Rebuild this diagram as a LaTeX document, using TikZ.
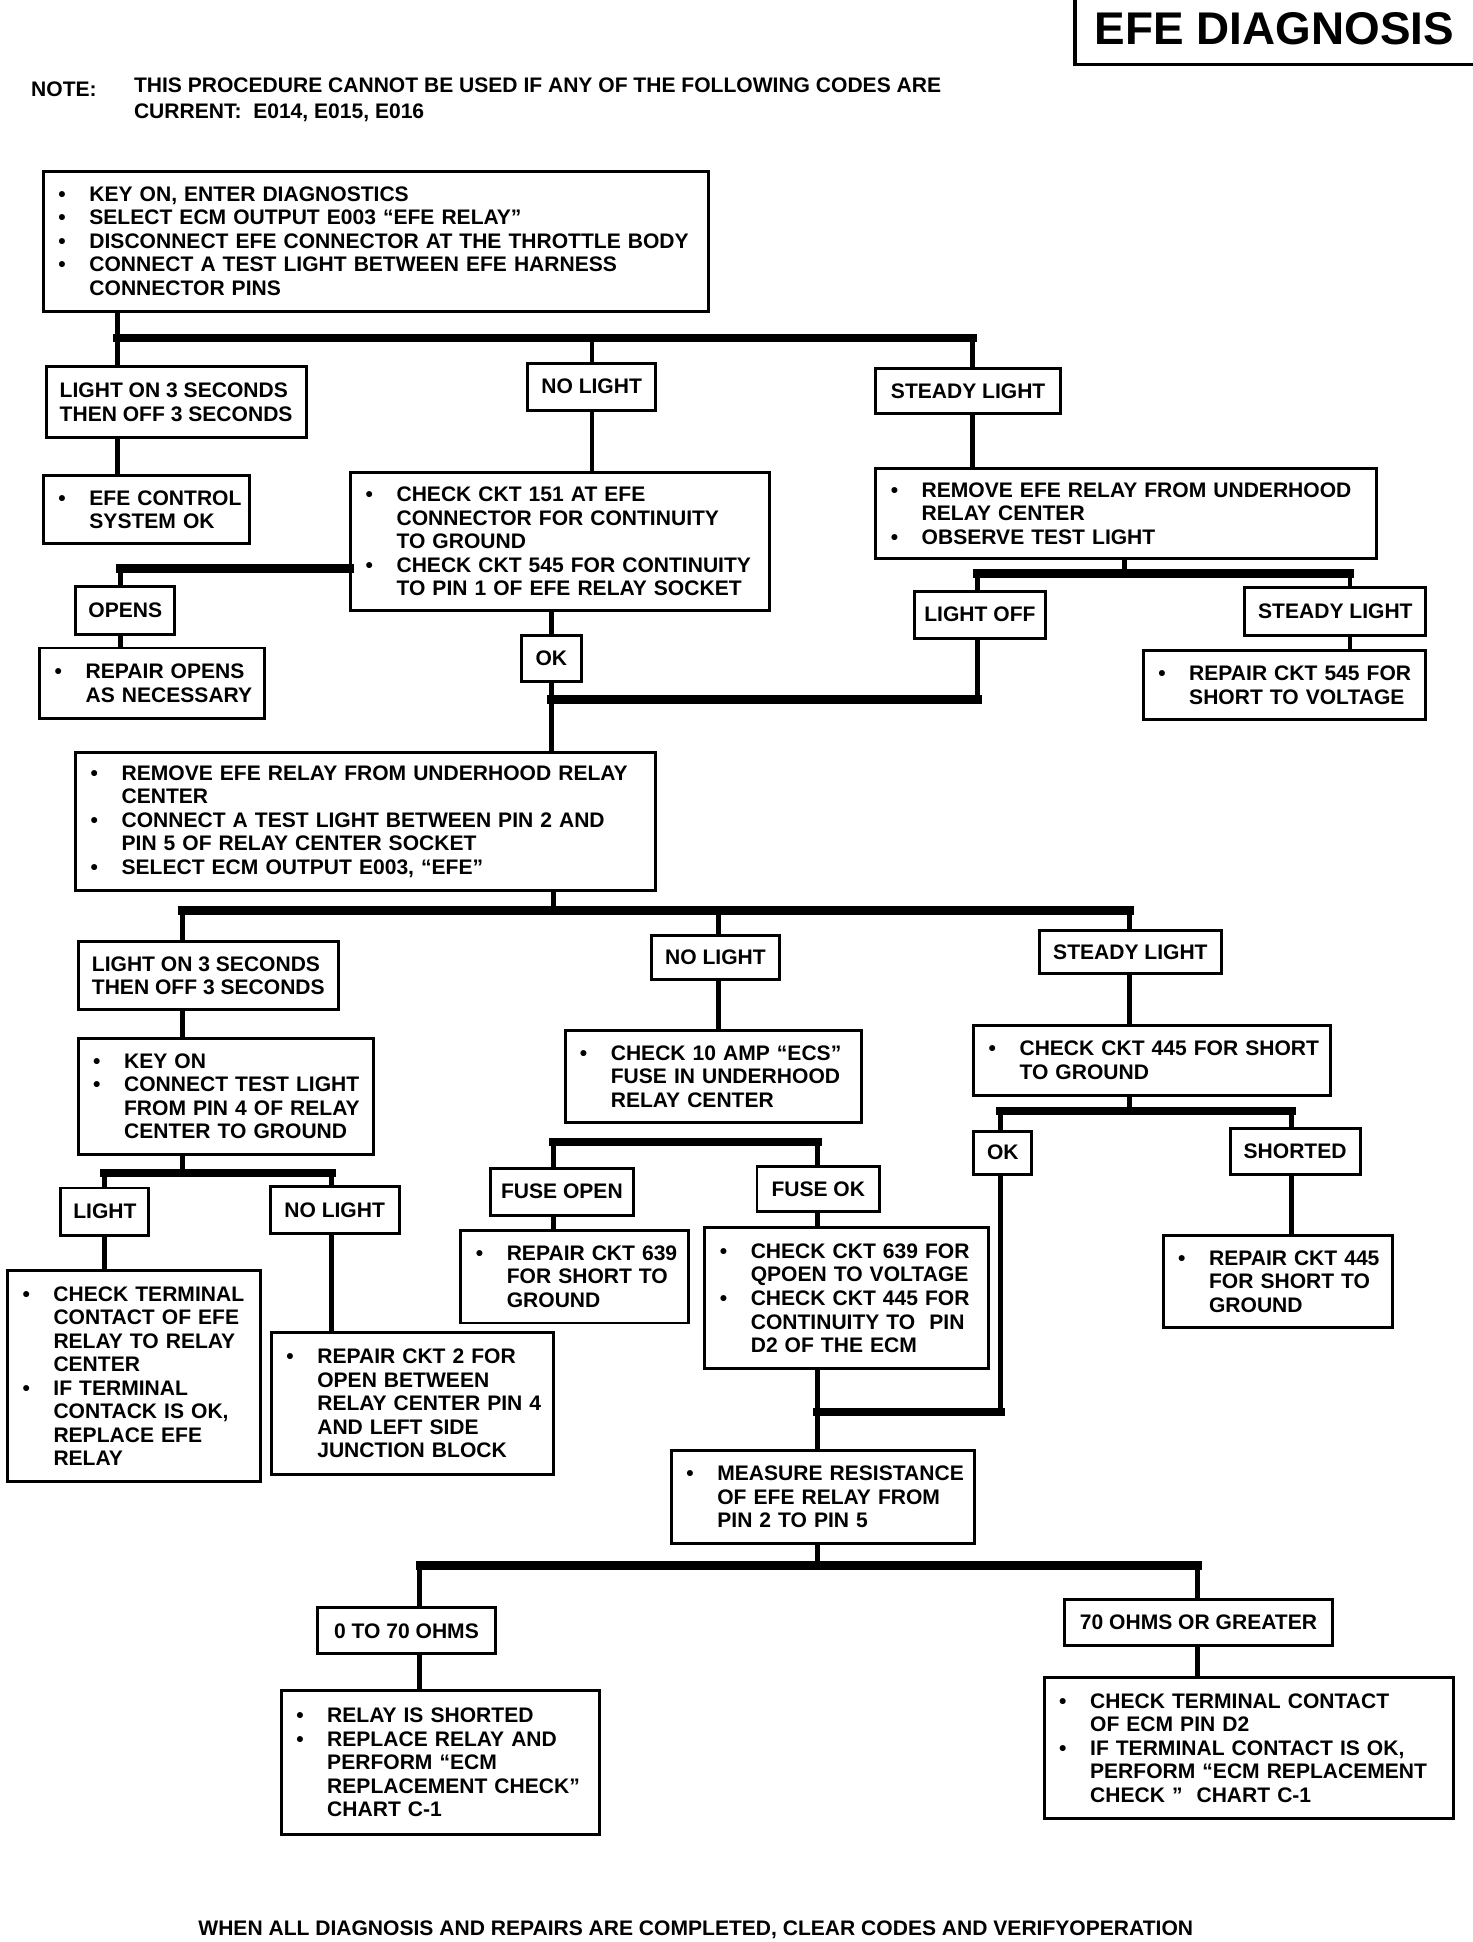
\documentclass[tikz,border=0pt]{standalone}
\usepackage{fontspec}
\setmainfont{Liberation Sans}
\newcommand{\ft}{\fontsize{17}{19}\selectfont\bfseries}
\newcommand{\bu}{\makebox[25pt][l]{\textbullet}}
\newcommand{\bl}[1]{\mbox{\bu#1}}
\newcommand{\cl}[1]{\mbox{\hspace*{25pt}#1}}
\tikzset{
  bx/.style={draw, line width=2.4pt, anchor=north west, inner xsep=12pt, inner ysep=0pt, align=left, font=\ft},
  lb/.style={draw, line width=2.4pt, anchor=north west, inner sep=0pt, align=center, font=\ft},
  vl/.style={line width=4pt},
  hb/.style={line width=7pt, line cap=rect},
}
\begin{document}
\begin{tikzpicture}[x=1pt,y=-1pt]
\useasboundingbox (0,0) rectangle (1189,1568);

% title and note
\node[font=\fontsize{37}{40}\selectfont\bfseries] (title) at (1029,23) {EFE DIAGNOSIS};
\draw[line width=3pt] (868,0) -- (868,52) -- (1189,52);
\node[anchor=west, font=\ft, inner sep=0pt] (notelabel) at (25,72) {NOTE:};
\node[anchor=north west, font=\fontsize{17}{21}\selectfont\bfseries, align=left, inner sep=0pt] (notetext) at (108,63)
  {THIS PROCEDURE CANNOT BE USED IF ANY OF THE FOLLOWING CODES ARE\\CURRENT:\ \ E014, E015, E016};

% boxes
\node[bx, text width=513pt, minimum height=113pt] (b1) at (34,137) {%
\bl{KEY ON, ENTER DIAGNOSTICS}\\
\bl{SELECT ECM OUTPUT E003 “EFE RELAY”}\\
\bl{DISCONNECT EFE CONNECTOR AT THE THROTTLE BODY}\\
\bl{CONNECT A TEST LIGHT BETWEEN EFE HARNESS}\\
\cl{CONNECTOR PINS}};

\node[lb, align=left, minimum width=210pt, minimum height=57pt] (l1) at (36,295) {LIGHT ON 3 SECONDS\\THEN OFF 3 SECONDS};
\node[lb, minimum width=103pt, minimum height=38pt] (l2) at (425,292) {NO LIGHT};
\node[lb, minimum width=149pt, minimum height=37pt] (l3) at (706,296) {STEADY LIGHT};

\node[bx, text width=142pt, minimum height=55pt] (c1) at (34,383) {\bl{EFE CONTROL}\\\cl{SYSTEM OK}};
\node[bx, text width=314pt, minimum height=112pt] (c2) at (282,380) {%
\bl{CHECK CKT 151 AT EFE}\\
\cl{CONNECTOR FOR CONTINUITY}\\
\cl{TO GROUND}\\
\bl{CHECK CKT 545 FOR CONTINUITY}\\
\cl{TO PIN 1 OF EFE RELAY SOCKET}};
\node[bx, text width=380pt, minimum height=73pt] (c3) at (706,377) {%
\bl{REMOVE EFE RELAY FROM UNDERHOOD}\\
\cl{RELAY CENTER}\\
\bl{OBSERVE TEST LIGHT}};

\node[lb, minimum width=80pt, minimum height=39pt] (o1) at (60,472) {OPENS};
\node[bx, text width=157pt, minimum height=57pt] (r1) at (31,522) {\bl{REPAIR OPENS}\\\cl{AS NECESSARY}};
\node[lb, minimum width=48pt, minimum height=37pt] (ok1) at (420,512) {OK};
\node[lb, minimum width=106pt, minimum height=38pt] (lo) at (737,476) {LIGHT OFF};
\node[lb, minimum width=146pt, minimum height=39pt] (sl2) at (1004,473) {STEADY LIGHT};
\node[bx, text width=204pt, minimum height=56pt] (r2) at (922,524) {\bl{REPAIR CKT 545 FOR}\\\cl{SHORT TO VOLTAGE}};

\node[bx, text width=444pt, minimum height=112pt] (m1) at (60,606) {%
\bl{REMOVE EFE RELAY FROM UNDERHOOD RELAY}\\
\cl{CENTER}\\
\bl{CONNECT A TEST LIGHT BETWEEN PIN 2 AND}\\
\cl{PIN 5 OF RELAY CENTER SOCKET}\\
\bl{SELECT ECM OUTPUT E003, “EFE”}};

\node[lb, align=left, minimum width=210pt, minimum height=55pt] (n1) at (62,759) {LIGHT ON 3 SECONDS\\THEN OFF 3 SECONDS};
\node[lb, minimum width=103pt, minimum height=36pt] (n2) at (525,754) {NO LIGHT};
\node[lb, minimum width=147pt, minimum height=35pt] (n3) at (838,750) {STEADY LIGHT};

\node[bx, text width=214pt, minimum height=94pt] (k1) at (62,837) {%
\bl{KEY ON}\\
\bl{CONNECT TEST LIGHT}\\
\cl{FROM PIN 4 OF RELAY}\\
\cl{CENTER TO GROUND}};
\node[bx, text width=215pt, minimum height=74pt] (k2) at (455,831) {%
\bl{CHECK 10 AMP “ECS”}\\
\cl{FUSE IN UNDERHOOD}\\
\cl{RELAY CENTER}};
\node[bx, text width=264pt, minimum height=56pt] (k3) at (785,827) {%
\bl{CHECK CKT 445 FOR SHORT}\\
\cl{TO GROUND}};

\node[lb, minimum width=71pt, minimum height=38pt] (p1) at (48,958) {LIGHT};
\node[lb, minimum width=104pt, minimum height=38pt] (p2) at (217,957) {NO LIGHT};
\node[bx, text width=180pt, minimum height=170pt] (q1) at (5,1025) {%
\bl{CHECK TERMINAL}\\
\cl{CONTACT OF EFE}\\
\cl{RELAY TO RELAY}\\
\cl{CENTER}\\
\bl{IF TERMINAL}\\
\cl{CONTACK IS OK,}\\
\cl{REPLACE EFE}\\
\cl{RELAY}};
\node[bx, text width=204pt, minimum height=114pt] (q2) at (218,1075) {%
\bl{REPAIR CKT 2 FOR}\\
\cl{OPEN BETWEEN}\\
\cl{RELAY CENTER PIN 4}\\
\cl{AND LEFT SIDE}\\
\cl{JUNCTION BLOCK}};

\node[lb, minimum width=115pt, minimum height=38pt] (f1) at (395,942) {FUSE OPEN};
\node[lb, minimum width=99pt, minimum height=36pt] (f2) at (610,941) {FUSE OK};
\node[bx, text width=160pt, minimum height=75pt] (g1) at (371,992) {%
\bl{REPAIR CKT 639}\\
\cl{FOR SHORT TO}\\
\cl{GROUND}};
\node[bx, text width=205pt, minimum height=114pt] (g2) at (568,990) {%
\bl{CHECK CKT 639 FOR}\\
\cl{QPOEN TO VOLTAGE}\\
\bl{CHECK CKT 445 FOR}\\
\cl{CONTINUITY TO\ \ PIN}\\
\cl{D2 OF THE ECM}};

\node[lb, minimum width=47pt, minimum height=35pt] (s1) at (785,912) {OK};
\node[lb, minimum width=105pt, minimum height=37pt] (s2) at (992,910) {SHORTED};
\node[bx, text width=161pt, minimum height=75pt] (t2) at (938,996) {%
\bl{REPAIR CKT 445}\\
\cl{FOR SHORT TO}\\
\cl{GROUND}};

\node[bx, text width=221pt, minimum height=75pt] (u1) at (541,1170) {%
\bl{MEASURE RESISTANCE}\\
\cl{OF EFE RELAY FROM}\\
\cl{PIN 2 TO PIN 5}};

\node[lb, minimum width=144pt, minimum height=37pt] (v1) at (255,1297) {0 TO 70 OHMS};
\node[lb, minimum width=217pt, minimum height=37pt] (v2) at (858,1290) {70 OHMS OR GREATER};
\node[bx, text width=233pt, minimum height=116pt] (w1) at (226,1364) {%
\bl{RELAY IS SHORTED}\\
\bl{REPLACE RELAY AND}\\
\cl{PERFORM “ECM}\\
\cl{REPLACEMENT CHECK”}\\
\cl{CHART C-1}};
\node[bx, text width=306pt, minimum height=114pt] (w2) at (842,1353) {%
\bl{CHECK TERMINAL CONTACT}\\
\cl{OF ECM PIN D2}\\
\bl{IF TERMINAL CONTACT IS OK,}\\
\cl{PERFORM “ECM REPLACEMENT}\\
\cl{CHECK ”\ \ CHART C-1}};

\node[anchor=west, font=\ft, inner sep=0pt] (footer) at (160,1558)
  {WHEN ALL DIAGNOSIS AND REPAIRS ARE COMPLETED, CLEAR CODES AND VERIFYOPERATION};

% connectors
\coordinate (J1) at (95,273);
\coordinate (X478) at (478,0);
\coordinate (X785) at (785,0);
\draw[vl] (b1.south -| J1) -- (l1.north -| J1);
\draw[hb] (J1) -- (J1 -| X785);
\draw[vl] (J1 -| X478) -- (l2.north -| X478);
\draw[vl] (J1 -| X785) -- (l3.north -| X785);
\draw[vl] (l1.south -| J1) -- (c1.north -| J1);
\draw[vl] (l2.south -| X478) -- (c2.north -| X478);
\draw[vl] (l3.south -| X785) -- (c3.north -| X785);

\coordinate (J2) at (97,459);
\draw[hb] (J2) -- (J2 -| c2.west);
\draw[vl] (J2) -- (o1.north -| J2);
\draw[vl] (o1.south -| J2) -- (r1.north -| J2);

\coordinate (X445) at (445,0);
\coordinate (J3) at (445,565);
\coordinate (X789) at (789,0);
\draw[vl] (c2.south -| X445) -- (ok1.north -| X445);
\draw[vl] (ok1.south -| X445) -- (m1.north -| X445);
\draw[hb] (J3) -- (J3 -| X789);
\draw[vl] (lo.south -| X789) -- (J3 -| X789);

\coordinate (J4) at (908,463);
\coordinate (X1090) at (1090,0);
\draw[vl] (c3.south -| J4) -- (J4);
\draw[hb] (J4 -| X789) -- (J4 -| X1090);
\draw[vl] (J4 -| X789) -- (lo.north -| X789);
\draw[vl] (J4 -| X1090) -- (sl2.north -| X1090);
\draw[vl] (sl2.south -| X1090) -- (r2.north -| X1090);

\coordinate (J5) at (447,735);
\coordinate (X147) at (147,0);
\coordinate (X580) at (580,0);
\coordinate (X912) at (912,0);
\draw[vl] (m1.south -| J5) -- (J5);
\draw[hb] (J5 -| X147) -- (J5 -| X912);
\draw[vl] (J5 -| X147) -- (n1.north -| X147);
\draw[vl] (J5 -| X580) -- (n2.north -| X580);
\draw[vl] (J5 -| X912) -- (n3.north -| X912);
\draw[vl] (n1.south -| X147) -- (k1.north -| X147);
\draw[vl] (n2.south -| X580) -- (k2.north -| X580);
\draw[vl] (n3.south -| X912) -- (k3.north -| X912);

\coordinate (J6) at (147,947);
\coordinate (X84) at (84,0);
\coordinate (X268) at (268,0);
\draw[vl] (k1.south -| J6) -- (J6);
\draw[hb] (J6 -| X84) -- (J6 -| X268);
\draw[vl] (J6 -| X84) -- (p1.north -| X84);
\draw[vl] (J6 -| X268) -- (p2.north -| X268);
\draw[vl] (p1.south -| X84) -- (q1.north -| X84);
\draw[vl] (p2.south -| X268) -- (q2.north -| X268);

\coordinate (J7) at (447,922);
\coordinate (X660) at (660,0);
\draw[hb] (J7) -- (J7 -| X660);
\draw[vl] (J7) -- (f1.north -| J7);
\draw[vl] (J7 -| X660) -- (f2.north -| X660);
\draw[vl] (f1.south -| J7) -- (g1.north -| J7);
\draw[vl] (f2.south -| X660) -- (g2.north -| X660);

\coordinate (J8) at (912,897);
\coordinate (X808) at (808,0);
\coordinate (X1043) at (1043,0);
\draw[vl] (k3.south -| J8) -- (J8);
\draw[hb] (J8 -| X808) -- (J8 -| X1043);
\draw[vl] (J8 -| X808) -- (s1.north -| X808);
\draw[vl] (J8 -| X1043) -- (s2.north -| X1043);
\draw[vl] (s2.south -| X1043) -- (t2.north -| X1043);

\coordinate (J9) at (808,1140);
\draw[vl] (s1.south -| J9) -- (J9);
\draw[hb] (J9) -- (J9 -| X660);
\draw[vl] (g2.south -| X660) -- (u1.north -| X660);

\coordinate (J10) at (660,1264);
\coordinate (X339) at (339,0);
\coordinate (X967) at (967,0);
\draw[vl] (u1.south -| J10) -- (J10);
\draw[hb] (J10 -| X339) -- (J10 -| X967);
\draw[vl] (J10 -| X339) -- (v1.north -| X339);
\draw[vl] (J10 -| X967) -- (v2.north -| X967);
\draw[vl] (v1.south -| X339) -- (w1.north -| X339);
\draw[vl] (v2.south -| X967) -- (w2.north -| X967);
\end{tikzpicture}
\end{document}
